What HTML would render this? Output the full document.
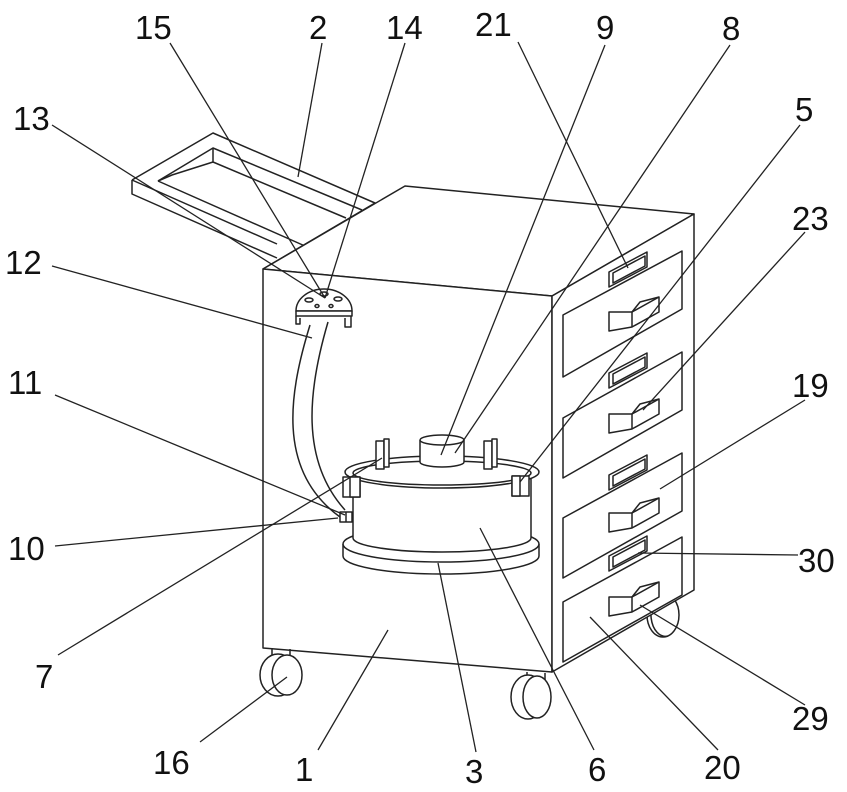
<!DOCTYPE html>
<html><head><meta charset="utf-8"><style>
html,body{margin:0;padding:0;background:#fff}
svg{display:block}
text{font-family:"Liberation Sans",sans-serif;font-size:33px;fill:#111}
</style></head><body>
<svg width="847" height="792" viewBox="0 0 847 792" xmlns="http://www.w3.org/2000/svg">
<g fill="none" stroke="#222" stroke-width="1.5" stroke-linejoin="round">
<!-- tray -->
<path d="M132,180 L213,133 L375,203 L263,269"/>
<path d="M132,180 L132,194 L277,258"/>
<path d="M132,180 L277,244"/>
<path d="M158,181 L213,148 L362,210"/>
<path d="M213,148 L213,162 L346,218"/>
<path d="M158,181 L305,246"/>
<path d="M158,181 L172,175 L213,162"/>
<!-- right wheel (behind) -->
<ellipse cx="663" cy="615" rx="16" ry="22" fill="#fff"/><path d="M663,593 A14,21 0 0,0 668,636"/>
<!-- cabinet -->
<path d="M263,269 L405,186 L694,214 L552,296 Z" fill="#fff"/>
<path d="M263,269 L552,296 L552,672 L263,648 Z" fill="#fff"/>
<path d="M552,296 L694,214 L694,590 L552,672 Z" fill="#fff"/>
<!-- drawers -->
<g>
<path d="M563,315 L682,251 L682,309 L563,377 Z"/>
<path d="M563,418 L682,352 L682,410 L563,478 Z"/>
<path d="M563,518 L682,453 L682,511 L563,578 Z"/>
<path d="M563,602 L682,537 L682,595 L563,662 Z"/>
</g>
<!-- rect handles -->
<g>
<path d="M609,272 L647,252 L647,267 L609,287 Z"/><path d="M613,273 L645,256 L645,266 L613,283 Z"/>
<path d="M609,373 L647,353 L647,368 L609,388 Z"/><path d="M613,374 L645,357 L645,367 L613,384 Z"/>
<path d="M609,475 L647,455 L647,470 L609,490 Z"/><path d="M613,476 L645,459 L645,469 L613,486 Z"/>
<path d="M609,556 L647,536 L647,551 L609,571 Z"/><path d="M613,557 L645,540 L645,550 L613,567 Z"/>
</g>
<!-- L pulls -->
<g>
<path d="M609,312 L632,312 L659,297 L659,312 L632,327 L609,331 Z"/><path d="M632,312 L632,327"/><path d="M632,312 L640,302 L659,297"/>
<path d="M609,414 L632,414 L659,399 L659,414 L632,429 L609,433 Z"/><path d="M632,414 L632,429"/><path d="M632,414 L640,404 L659,399"/>
<path d="M609,513 L632,513 L659,498 L659,513 L632,528 L609,532 Z"/><path d="M632,513 L632,528"/><path d="M632,513 L640,503 L659,498"/>
<path d="M609,597 L632,597 L659,582 L659,597 L632,612 L609,616 Z"/><path d="M632,597 L632,612"/><path d="M632,597 L640,587 L659,582"/>
</g>
<!-- wheels -->
<path d="M272,648 L272,660 M290,649 L290,661"/>
<ellipse cx="278" cy="675" rx="18" ry="21" fill="#fff"/><ellipse cx="287" cy="675" rx="15" ry="20" fill="#fff"/>
<path d="M527,672 L527,684 M545,673 L545,685"/>
<ellipse cx="528" cy="697" rx="17" ry="22" fill="#fff"/><ellipse cx="537" cy="697" rx="14" ry="21" fill="#fff"/>
<!-- hose -->
<path d="M310,325 C290,390 275,470 340,517" />
<path d="M328,322 C308,390 300,460 345,510" />
<!-- dispenser -->
<path d="M296,311 A28,22 0 0,1 352,311 Z" fill="#fff"/>
<path d="M296,311 L352,311 L352,316 L296,316 Z" fill="#fff"/>
<path d="M296,316 L296,324 L300,324 L300,318 M345,318 L345,327 L351,327 L351,316"/>
<ellipse cx="309" cy="300" rx="4" ry="2"/><ellipse cx="324" cy="294" rx="4" ry="2"/><ellipse cx="338" cy="299" rx="4" ry="2"/><ellipse cx="317" cy="306" rx="2" ry="1.5"/><ellipse cx="331" cy="306" rx="2" ry="1.5"/>
<!-- bucket base -->
<path d="M343,544 L343,556 A98,18 0 0,0 539,556 L539,544" fill="#fff"/>
<ellipse cx="441" cy="544" rx="98" ry="18" fill="#fff"/>
<!-- body -->
<path d="M353,472 L353,538 A89,14 0 0,0 531,538 L531,472" fill="#fff"/>
<ellipse cx="442" cy="472" rx="97" ry="16" fill="#fff"/>
<ellipse cx="442" cy="473" rx="89" ry="12"/>
<!-- clamps -->
<rect x="343" y="477" width="17" height="20" fill="#fff"/><rect x="350" y="477" width="10" height="20" fill="#fff"/>
<rect x="512" y="476" width="17" height="20" fill="#fff"/><rect x="512" y="476" width="8" height="20" fill="#fff"/>
<rect x="376" y="441" width="8" height="28" fill="#fff"/><rect x="384" y="439" width="5" height="28" fill="#fff"/>
<rect x="484" y="441" width="8" height="28" fill="#fff"/><rect x="492" y="439" width="5" height="28" fill="#fff"/>
<!-- lid cylinder -->
<path d="M420,440 L420,462 A22,5 0 0,0 464,462 L464,440" fill="#fff"/>
<ellipse cx="442" cy="440" rx="22" ry="5" fill="#fff"/>
<!-- valve -->
<rect x="340" y="512" width="12" height="10" fill="#fff"/><path d="M346,512 L346,522"/>
</g>
<!-- leader lines -->
<g stroke="#222" stroke-width="1.3">
<line x1="170" y1="43" x2="325" y2="298"/>
<line x1="322" y1="43" x2="298" y2="177"/>
<line x1="405" y1="43" x2="325" y2="298"/>
<line x1="52" y1="125" x2="325" y2="298"/>
<line x1="52" y1="266" x2="312" y2="338"/>
<line x1="518" y1="42" x2="628" y2="268"/>
<line x1="605" y1="45" x2="441" y2="455"/>
<line x1="730" y1="45" x2="455" y2="453"/>
<line x1="800" y1="125" x2="520" y2="482"/>
<line x1="805" y1="232" x2="643" y2="410"/>
<line x1="805" y1="400" x2="660" y2="489"/>
<line x1="798" y1="555" x2="638" y2="553"/>
<line x1="805" y1="705" x2="640" y2="605"/>
<line x1="718" y1="750" x2="590" y2="617"/>
<line x1="594" y1="750" x2="480" y2="528"/>
<line x1="476" y1="752" x2="438" y2="563"/>
<line x1="318" y1="750" x2="388" y2="630"/>
<line x1="200" y1="742" x2="287" y2="677"/>
<line x1="55" y1="395" x2="345" y2="515"/>
<line x1="55" y1="546" x2="338" y2="518"/>
<line x1="58" y1="655" x2="382" y2="458"/>
</g>
<g>
<text x="135" y="39">15</text>
<text x="309" y="39">2</text>
<text x="386" y="39">14</text>
<text x="13" y="130">13</text>
<text x="5" y="274">12</text>
<text x="475" y="36">21</text>
<text x="596" y="39">9</text>
<text x="722" y="40">8</text>
<text x="795" y="121">5</text>
<text x="792" y="230">23</text>
<text x="792" y="397">19</text>
<text x="798" y="572">30</text>
<text x="792" y="730">29</text>
<text x="704" y="779">20</text>
<text x="588" y="781">6</text>
<text x="465" y="783">3</text>
<text x="295" y="781">1</text>
<text x="153" y="774">16</text>
<text x="8" y="394">11</text>
<text x="8" y="560">10</text>
<text x="35" y="688">7</text>
</g>
</svg>
</body></html>
